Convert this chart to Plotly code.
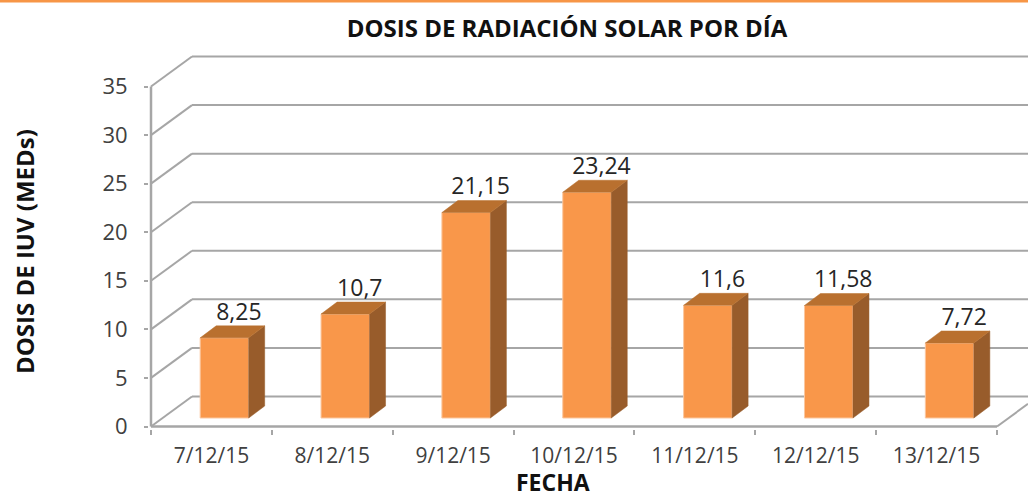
import plotly.graph_objects as go

# ---- data ----
categories = ["7/12/15", "8/12/15", "9/12/15", "10/12/15", "11/12/15", "12/12/15", "13/12/15"]
values = [8.25, 10.7, 21.15, 23.24, 11.6, 11.58, 7.72]
y_ticks = [0, 5, 10, 15, 20, 25, 30, 35]

# ---- pseudo-3D geometry (pixels, converted to axis units) ----
W, H = 1028, 499
PX_X = 120.86          # px per category
PX_Y = 9.714           # px per y unit
X0_PX, Y0_PX = 151, 426.5
M_L, M_T, M_B = 149, 40, 70
WALL_DX, WALL_DY = 41 / PX_X, 30 / PX_Y
BAR_OFF, BAR_BASE = 13 / PX_X, 8.5 / PX_Y
BAR_W = 48.5 / PX_X
D_X, D_Y = 16 / PX_X, 12 / PX_Y
LAB_DX, LAB_DY = 14.5 / PX_X, 24 / PX_Y

x_left = -0.5
n = len(categories)
x_right = x_left + n
x_max = x_left + (W - X0_PX) / PX_X
x_min = x_left - (X0_PX - M_L) / PX_X
y_min = -((H - M_B) - Y0_PX) / PX_Y
y_max = (Y0_PX - M_T) / PX_Y

GRID = "#A6A6A6"
FRONT, SIDE, TOP = "#F9974A", "#985C2B", "#B9702F"
TXT = "#404040"
FONT = "Open Sans"

shapes = []
def line(x0, y0, x1, y1, w=2.0):
    shapes.append(dict(type="line", xref="x", yref="y", x0=x0, y0=y0, x1=x1, y1=y1,
                       line=dict(color=GRID, width=w), layer="below"))

for v in y_ticks:
    line(x_left, v, x_left + WALL_DX, v + WALL_DY)
    line(x_left + WALL_DX, v + WALL_DY, x_max, v + WALL_DY)
line(x_left, 0, x_left, y_ticks[-1], 2.5)
line(x_left, 0, x_right, 0, 2.5)
line(x_right, 0, x_max, (x_max - x_right) / WALL_DX * WALL_DY)

PW, PH = W - M_L, H - M_T - M_B
shapes.append(dict(type="line", xref="paper", yref="paper", x0=-M_L / PW, x1=1,
                   y0=1 + (M_T - 1) / PH, y1=1 + (M_T - 1) / PH,
                   line=dict(color="#F79646", width=3), layer="above"))

bar_x = [i + BAR_OFF for i in range(n)]

fig = go.Figure()
fig.add_bar(x=bar_x, y=values, base=[BAR_BASE] * n, width=BAR_W,
            marker=dict(color=FRONT, line=dict(color="#FBC79F", width=1)),
            hoverinfo="skip", showlegend=False)

side_x, side_y, top_x, top_y = [], [], [], []
for cx, v in zip(bar_x, values):
    l, r = cx - BAR_W / 2, cx + BAR_W / 2
    b, t = BAR_BASE, BAR_BASE + v
    side_x += [r, r + D_X, r + D_X, r, r, None]
    side_y += [b, b + D_Y, t + D_Y, t, b, None]
    top_x += [l, l + D_X, r + D_X, r, l, None]
    top_y += [t, t + D_Y, t + D_Y, t, t, None]

for xs, ys, col in [(side_x, side_y, SIDE), (top_x, top_y, TOP)]:
    fig.add_scatter(x=xs, y=ys, mode="lines", fill="toself", fillcolor=col,
                    line=dict(color=col, width=0.5), hoverinfo="skip", showlegend=False)

fig.add_scatter(x=[c + LAB_DX for c in bar_x], y=[v + BAR_BASE + LAB_DY for v in values],
                mode="text", text=[str(v).replace(".", ",") for v in values],
                textposition="middle center", textfont=dict(family=FONT, size=23, color="#262626"),
                hoverinfo="skip", showlegend=False, cliponaxis=False)

fig.update_layout(
    width=W, height=H, margin=dict(l=M_L, r=0, t=M_T, b=M_B, pad=0),
    paper_bgcolor="white", plot_bgcolor="white", shapes=shapes, showlegend=False,
    title=dict(text="<b>DOSIS DE RADIACIÓN SOLAR POR DÍA</b>", x=567 / W, xanchor="center",
               y=1 - 29 / H, yanchor="middle", font=dict(family=FONT, size=24, color="#111111")),
    xaxis=dict(range=[x_min, x_max], tickvals=list(range(n)), ticktext=categories, ticks="", showgrid=False,
               zeroline=False, showline=False, tickfont=dict(family=FONT, size=21, color=TXT),
               ticklabelstandoff=12,
               minor=dict(tickmode="array", tickvals=[x_left + i for i in range(n + 1)], ticks="outside",
                          ticklen=5, tickwidth=2, tickcolor=GRID, showgrid=False)),
    yaxis=dict(range=[y_min, y_max], tickvals=y_ticks, ticks="outside", ticklen=4, tickwidth=2, tickcolor=GRID,
               showgrid=False, zeroline=False, showline=False, tickfont=dict(family=FONT, size=22, color=TXT),
               ticklabelstandoff=12),
    annotations=[
        dict(text="<b>FECHA</b>", xref="paper", yref="paper", x=(553 - M_L) / PW, y=-(482 - (H - M_B)) / PH,
             xanchor="center", yanchor="middle", showarrow=False, font=dict(family=FONT, size=23, color="#111111")),
        dict(text="<b>DOSIS DE IUV (MEDs)</b>", xref="paper", yref="paper", x=-(M_L - 24) / PW,
             y=((H - M_B) - 252) / PH, xanchor="center", yanchor="middle", textangle=-90, showarrow=False,
             font=dict(family=FONT, size=24, color="#111111")),
    ],
)
fig.write_html("out.html", config={"displayModeBar": False}, post_script="document.body.style.margin='0';")
